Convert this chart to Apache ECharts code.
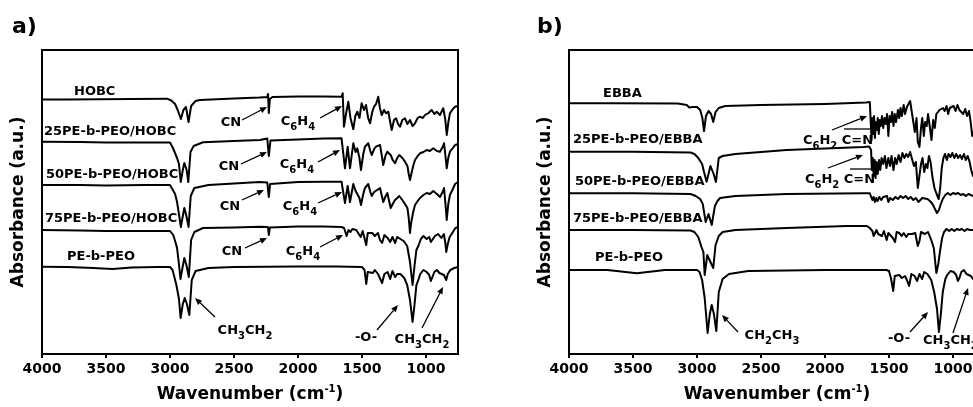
<!DOCTYPE html>
<html>
<head>
<meta charset="utf-8">
<script src="https://cdn.jsdelivr.net/npm/echarts@6/dist/echarts.min.js"></script>
<style>
  html, body { margin: 0; padding: 0; background: #fff; }
  #chart { width: 973px; height: 407px; }
</style>
</head>
<body>
<div id="chart"></div>
<script>
// FTIR spectra: [wavenumber (cm-1), absorbance (a.u., offset as plotted)]
const wnTicks = [4000, 3500, 3000, 2500, 2000, 1500, 1000];

// panel a)
const hobcA = [[4000,254.5],[3800,254.6],[3547,254.7],[3300,255],[3023,255.3],[2990,253.5],[2960,250],[2940,244],[2925,246],[2915,235],[2895,244],[2875,247],[2855,232],[2835,248],[2800,253],[2766,254],[2500,255.5],[2300,256.5],[2240,257],[2234,260],[2228,241],[2220,255],[2200,257],[2000,257.5],[1800,257.5],[1659,257.3],[1651,260.7],[1641,227.3],[1625,240],[1607,252.3],[1590,236],[1568,224.7],[1552,238],[1537,242.3],[1520,236],[1503,250.7],[1484,244],[1469,249],[1452,236],[1437,230.7],[1420,242],[1406,247.3],[1390,250],[1373,257.3],[1360,246],[1346,239],[1328,244],[1313,240.7],[1294,242.3],[1280,232],[1268,224],[1250,234],[1234,235.7],[1218,230],[1203,227.3],[1185,234],[1164,235.7],[1145,230],[1125,234],[1105,228],[1086,230.7],[1065,236],[1047,237.3],[1025,236],[1008,239],[980,241],[956,244],[935,240],[916,242.3],[891,239],[865,245.7],[850,235],[838,219],[825,232],[813,240.7],[790,245],[773,247.3],[750,248]];
const hobc25A = [[4000,212.3],[3700,212],[3500,211.5],[3200,211.5],[3000,211.5],[2977,206],[2945,196],[2930,190],[2916,172],[2900,184],[2888,191],[2870,184],[2857,172],[2840,202],[2815,208],[2742,211.7],[2500,213],[2297,214],[2240,215.5],[2228,198],[2215,213.5],[2000,214.5],[1800,215.5],[1660,215.7],[1646,214],[1633,185.7],[1612,207.3],[1594,185.7],[1568,210.7],[1550,202],[1537,205.7],[1520,196],[1508,184],[1490,200],[1477,207.3],[1451,210.7],[1435,203],[1424,199],[1405,205],[1391,207.3],[1359,209],[1345,198],[1334,189],[1315,199],[1302,202.3],[1276,199],[1260,194],[1242,190.7],[1225,196],[1209,199],[1185,196],[1164,192.3],[1145,188],[1135,180],[1125,174],[1115,180],[1100,188],[1086,194],[1065,198],[1047,200.7],[1020,202],[995,204],[970,203],[943,205.7],[915,203],[891,202.3],[870,207],[859,210.7],[848,198],[838,185.7],[826,196],[813,202.3],[790,206],[773,209],[750,210]];
const hobc50A = [[4000,169],[3700,169],[3500,168.5],[3200,169],[3000,169],[2987,167],[2960,160],[2945,152],[2935,144],[2915,127],[2900,138],[2888,146],[2872,138],[2855,127],[2838,158],[2810,166],[2700,169],[2500,170.5],[2300,172],[2240,171.5],[2228,157],[2218,170],[2000,172],[1800,172.3],[1660,172.3],[1646,174],[1633,151],[1612,168],[1594,152],[1568,170],[1550,163],[1537,164],[1520,156],[1508,149],[1490,160],[1477,166],[1451,170],[1435,162],[1424,158],[1405,162],[1391,164],[1359,166],[1345,158],[1334,152],[1315,158],[1302,161],[1290,154],[1276,146],[1260,150],[1242,154],[1225,156],[1209,158],[1185,154],[1164,150],[1145,146],[1135,136],[1125,121],[1115,132],[1100,142],[1086,149],[1065,153],[1047,156],[1020,159],[995,161],[970,160],[943,163],[915,160],[891,157],[870,162],[859,166],[848,150],[838,134],[826,150],[813,159],[790,165],[773,170],[750,172]];
const hobc75A = [[4000,124],[3700,123.5],[3500,123],[3200,123],[3000,123],[2975,119],[2960,113],[2945,106],[2932,92],[2918,75],[2900,88],[2888,96],[2870,88],[2853,77],[2835,114],[2810,122],[2742,126],[2500,126.5],[2300,127.3],[2235,127],[2228,119],[2220,126.5],[2000,127.5],[1800,127.5],[1660,127],[1640,126],[1620,118],[1606,124],[1590,122],[1575,125],[1545,124],[1510,117],[1495,123],[1480,121],[1467,109],[1455,121],[1440,119],[1420,121],[1400,118],[1375,121],[1360,114],[1343,111],[1325,119],[1300,116],[1280,112],[1262,117],[1241,111],[1225,117],[1200,115],[1175,113],[1147,108],[1125,92],[1105,69],[1090,88],[1075,104],[1060,108],[1040,115],[1020,118],[995,115],[975,117],[962,112],[947,114],[930,118],[905,120],[880,116],[860,120],[848,110],[842,102],[830,110],[815,117],[790,122],[770,126],[750,127]];
const peoA = [[4000,87.3],[3800,87],[3600,86],[3450,85],[3300,86.5],[3100,87],[3000,87],[2980,84],[2950,69],[2930,55],[2917,36],[2900,50],[2885,56],[2868,50],[2849,39],[2830,74],[2800,83],[2700,86],[2500,87],[2000,87.5],[1700,87.5],[1500,87],[1480,84],[1467,70],[1455,82],[1440,83],[1415,81],[1400,84],[1375,80],[1360,78],[1343,71],[1325,80],[1300,82],[1280,75],[1262,83],[1241,77],[1225,80],[1200,80],[1170,76],[1147,69],[1125,54],[1105,32],[1090,49],[1075,69],[1060,74],[1045,80],[1020,84],[995,82],[975,79],[962,73],[950,74],[935,82],[915,84],[895,81],[880,82],[860,79],[842,74],[830,80],[810,84],[780,86],[750,87]];

// panel b)
const ebbaB = [[4000,250.7],[3700,250.7],[3685,252],[3675,250.7],[3150,250.5],[3080,249],[3060,246.5],[3045,248.5],[3030,247],[3000,247],[2975,244],[2958,236],[2945,223],[2930,238],[2910,243],[2890,240],[2873,232],[2855,242],[2830,246],[2780,248],[2500,249],[2000,250],[1680,251.5],[1650,252],[1642,250],[1636,214],[1630,236],[1624,220],[1617,238],[1610,216],[1603,232],[1595,224],[1588,236],[1580,220],[1572,234],[1563,228],[1555,238],[1545,226],[1535,236],[1525,230],[1515,240],[1505,218],[1495,238],[1485,232],[1475,242],[1465,228],[1455,240],[1445,232],[1430,244],[1420,236],[1410,246],[1400,238],[1385,249],[1375,240],[1360,247],[1348,250],[1335,253],[1322,251],[1310,232],[1298,222],[1285,236],[1275,212],[1262,207],[1250,226],[1240,236],[1228,218],[1218,232],[1205,228],[1195,240],[1180,226],[1168,214],[1155,234],[1142,226],[1130,240],[1118,238],[1105,244],[1090,242],[1078,246],[1065,243],[1050,248],[1038,240],[1025,246],[1010,244],[995,248],[980,243],[965,249],[950,244],[935,246],[920,240],[905,245],[890,238],[875,243],[862,232],[850,218],[840,216],[800,238],[750,244]];
const ebba25B = [[4000,202.3],[3500,202.3],[3050,201.5],[3020,200],[2990,196],[2960,190],[2945,182],[2925,172.3],[2895,188],[2870,180],[2852,172],[2830,196],[2800,198],[2700,200],[2300,204],[1700,207],[1655,207.5],[1640,204],[1634,184],[1627,196],[1620,178],[1612,194],[1605,176],[1597,192],[1588,180],[1578,194],[1568,184],[1558,196],[1545,190],[1532,198],[1520,186],[1505,196],[1492,188],[1480,198],[1465,184],[1452,196],[1440,190],[1425,199],[1410,192],[1395,201],[1380,196],[1365,200],[1350,197],[1335,202],[1320,200],[1305,188],[1290,192],[1275,166],[1262,164],[1250,190],[1238,196],[1225,182],[1212,190],[1200,186],[1188,198],[1175,192],[1162,178],[1145,166],[1128,160],[1112,155],[1100,166],[1088,186],[1075,196],[1062,200],[1048,194],[1035,200],[1020,197],[1005,201],[990,196],[975,200],[960,196],[945,199],[930,195],[915,200],[900,194],[885,198],[870,192],[858,184],[844,178],[800,196],[750,202]];
const ebba50B = [[4000,160.7],[3500,160.7],[3050,160],[3010,158],[2975,155],[2955,150],[2945,142],[2932,132],[2910,140],[2885,129],[2860,148],[2840,153],[2820,156],[2700,158],[2300,160],[1700,160.7],[1650,160.7],[1640,159],[1630,154],[1620,157],[1610,152],[1600,156],[1590,153],[1575,157],[1560,154],[1545,157],[1530,155],[1515,158],[1505,152],[1490,156],[1470,154],[1450,157],[1430,155],[1410,158],[1390,156],[1370,158],[1350,155],[1330,157],[1310,154],[1290,156],[1270,152],[1255,153],[1240,156],[1225,154],[1200,155],[1180,153],[1160,150],[1145,146],[1125,141],[1110,144],[1095,150],[1080,155],[1060,159],[1040,161],[1020,159],[1000,161],[980,160],[960,161],[940,159],[920,160],[900,158],[880,160],[860,159],[844,158],[800,160],[750,161]];
const ebba75B = [[4000,124],[3500,124],[3050,123.5],[3020,122],[2990,117],[2965,107],[2950,102],[2940,79],[2920,99],[2895,92],[2873,86],[2855,109],[2830,118],[2800,122],[2700,124],[2300,126],[1830,128],[1674,128],[1650,126],[1630,123],[1620,118],[1609,116],[1598,124],[1585,120],[1570,122],[1555,118],[1540,123],[1518,114],[1505,121],[1490,123],[1470,116],[1453,112],[1440,122],[1420,121],[1400,118],[1385,121],[1365,117],[1350,120],[1335,122],[1320,120],[1295,121],[1275,108],[1262,113],[1250,122],[1235,124],[1220,120],[1195,122],[1170,114],[1150,106],[1130,81],[1115,90],[1100,104],[1085,116],[1070,122],[1050,125],[1030,123],[1010,125],[990,123],[970,125],[950,124],[930,125],[910,123],[890,125],[870,124],[844,124],[800,125],[750,126]];
const peoB = [[4000,84],[3700,84],[3470,80.7],[3250,84],[3000,84],[2980,82],[2960,74],[2940,56],[2917,21],[2900,40],[2885,49],[2868,40],[2849,23],[2830,62],[2800,75],[2750,80],[2600,83],[2000,84],[1520,84],[1500,83],[1485,76],[1467,63],[1455,78],[1440,80],[1420,79],[1400,76],[1375,78],[1360,74],[1343,68],[1325,80],[1300,78],[1280,73],[1262,80],[1241,75],[1225,82],[1200,80],[1170,74],[1147,62],[1125,45],[1110,22],[1095,40],[1080,62],[1060,75],[1045,79],[1020,83],[995,82],[975,79],[962,73],[950,76],[935,82],[915,84],[895,80],[880,82],[860,78],[844,75],[800,82],[750,84]];

const spectraA = [hobcA, hobc25A, hobc50A, hobc75A, peoA];
const spectraB = [ebbaB, ebba25B, ebba50B, ebba75B, peoB];

const FONT = 'DejaVu Sans';

function makeX(gridIndex) {
    return {
        type: 'value',
        gridIndex: gridIndex,
        min: 750,
        max: 4000,
        inverse: true,
        axisLine: { show: true, onZero: false, lineStyle: { color: '#000', width: 2 } },
        axisTick: { show: true, customValues: wnTicks, length: 4, lineStyle: { color: '#000', width: 2 } },
        axisLabel: {
            customValues: wnTicks,
            formatter: function (v) { return String(v); },
            color: '#000', fontFamily: FONT, fontWeight: 'bold', fontSize: 14, margin: 8
        },
        splitLine: { show: false },
        name: '{n|Wavenumber (cm}{s|-1}{n|)}',
        nameLocation: 'middle',
        nameGap: 30,
        nameTextStyle: {
            rich: {
                n: { fontFamily: FONT, fontWeight: 'bold', fontSize: 17, color: '#000', lineHeight: 22, verticalAlign: 'middle' },
                s: { fontFamily: FONT, fontWeight: 'bold', fontSize: 10, color: '#000', lineHeight: 22, verticalAlign: 'top' }
            }
        }
    };
}

function makeY(gridIndex) {
    return {
        type: 'value',
        gridIndex: gridIndex,
        min: 0,
        max: 304,
        axisLine: { show: true, lineStyle: { color: '#000', width: 2 } },
        axisTick: { show: false },
        axisLabel: { show: false },
        splitLine: { show: false },
        name: 'Absorbance (a.u.)',
        nameLocation: 'middle',
        nameGap: 15,
        nameTextStyle: { fontFamily: FONT, fontWeight: 'bold', fontSize: 17, color: '#000' }
    };
}

function makeSeries(data, gridIndex) {
    return {
        type: 'line',
        xAxisIndex: gridIndex,
        yAxisIndex: gridIndex,
        data: data,
        showSymbol: false,
        clip: true,
        lineStyle: { color: '#000', width: 2, join: 'round' }
    };
}

// text helpers
const subRich = {
    t: { fontFamily: FONT, fontWeight: 'bold', fontSize: 13, fill: '#000', color: '#000', lineHeight: 20, verticalAlign: 'middle' },
    s: { fontFamily: FONT, fontWeight: 'bold', fontSize: 10, fill: '#000', color: '#000', lineHeight: 20, verticalAlign: 'bottom' }
};

function label(text, x, y, align, size) {
    return {
        type: 'text', x: x, y: y, z: 10,
        style: {
            text: text, fill: '#000',
            font: 'bold ' + (size || 13) + 'px "' + FONT + '"',
            align: align || 'left', verticalAlign: 'middle'
        }
    };
}

function richLabel(text, x, y, align) {
    return {
        type: 'text', x: x, y: y, z: 10,
        style: { text: text, rich: subRich, align: align || 'center', verticalAlign: 'middle' }
    };
}

function arrow(x1, y1, x2, y2, noHead) {
    const ang = Math.atan2(y2 - y1, x2 - x1);
    const len = 7, hw = 3;
    const bx = x2 - len * Math.cos(ang), by = y2 - len * Math.sin(ang);
    const els = [{
        type: 'line', z: 10,
        shape: { x1: x1, y1: y1, x2: noHead ? x2 : bx, y2: noHead ? y2 : by },
        style: { stroke: '#000', lineWidth: 1.3 }
    }];
    if (!noHead) {
        els.push({
            type: 'polygon', z: 10,
            shape: { points: [[x2, y2],
                [bx + hw * Math.sin(ang), by - hw * Math.cos(ang)],
                [bx - hw * Math.sin(ang), by + hw * Math.cos(ang)]] },
            style: { fill: '#000' }
        });
    }
    return els;
}

const C6H4 = '{t|C}{s|6}{t|H}{s|4}';
const C6H2CN = '{t|C}{s|6}{t|H}{s|2}{t| C=N}';

let graphics = [
    label('a)', 12, 27, 'left', 22),
    label('b)', 537, 27, 'left', 22),
    // panel a curve names
    label('HOBC', 74, 92),
    label('25PE-b-PEO/HOBC', 44, 132),
    label('50PE-b-PEO/HOBC', 46, 175),
    label('75PE-b-PEO/HOBC', 45, 219),
    label('PE-b-PEO', 67, 257),
    // panel b curve names
    label('EBBA', 603, 94),
    label('25PE-b-PEO/EBBA', 573, 140),
    label('50PE-b-PEO/EBBA', 575, 182),
    label('75PE-b-PEO/EBBA', 573, 219),
    label('PE-b-PEO', 595, 258),
    // panel a annotations
    richLabel('{t|CN}', 231, 123), richLabel('{t|CN}', 229, 167),
    richLabel('{t|CN}', 230, 207), richLabel('{t|CN}', 232, 252),
    richLabel(C6H4, 298, 122), richLabel(C6H4, 297, 165),
    richLabel(C6H4, 300, 207), richLabel(C6H4, 303, 252),
    richLabel('{t|CH}{s|3}{t|CH}{s|2}', 245, 331),
    richLabel('{t|-O-}', 366, 338),
    richLabel('{t|CH}{s|3}{t|CH}{s|2}', 422, 340),
    // panel b annotations
    richLabel(C6H2CN, 838, 141),
    richLabel(C6H2CN, 840, 180),
    richLabel('{t|CH}{s|2}{t|CH}{s|3}', 772, 336),
    richLabel('{t|-O-}', 899, 339),
    richLabel('{t|CH}{s|3}{t|CH}{s|2}', 923, 341, 'left')
];

const arrows = [
    arrow(242, 120, 267, 107), arrow(241, 164, 267, 152), arrow(242, 200, 264, 190), arrow(245, 248, 267, 238),
    arrow(320, 118, 342, 106), arrow(318, 162, 340, 150), arrow(318, 203, 342, 192), arrow(320, 247, 343, 235),
    arrow(215, 317, 195, 298), arrow(377, 330, 398, 305), arrow(422, 328, 443, 287),
    arrow(832, 130, 867, 116), arrow(844, 129, 870, 129, true),
    arrow(828, 168, 863, 155), arrow(850, 169, 872, 169, true),
    arrow(738, 332, 722, 315), arrow(910, 332, 928, 312), arrow(953, 333, 968, 288)
];
arrows.forEach(a => { graphics = graphics.concat(a); });

const chart = echarts.init(document.getElementById('chart'));

const option = {
    animation: false,
    backgroundColor: '#fff',
    grid: [
        { left: 42, top: 50, width: 416, height: 304, show: true, borderColor: '#000', borderWidth: 2, outerBoundsMode: 'none' },
        { left: 569, top: 50, width: 416, height: 304, show: true, borderColor: '#000', borderWidth: 2, outerBoundsMode: 'none' }
    ],
    xAxis: [makeX(0), makeX(1)],
    yAxis: [makeY(0), makeY(1)],
    series: spectraA.map(d => makeSeries(d, 0)).concat(spectraB.map(d => makeSeries(d, 1))),
    graphic: graphics
};

chart.setOption(option);
</script>
</body>
</html>
